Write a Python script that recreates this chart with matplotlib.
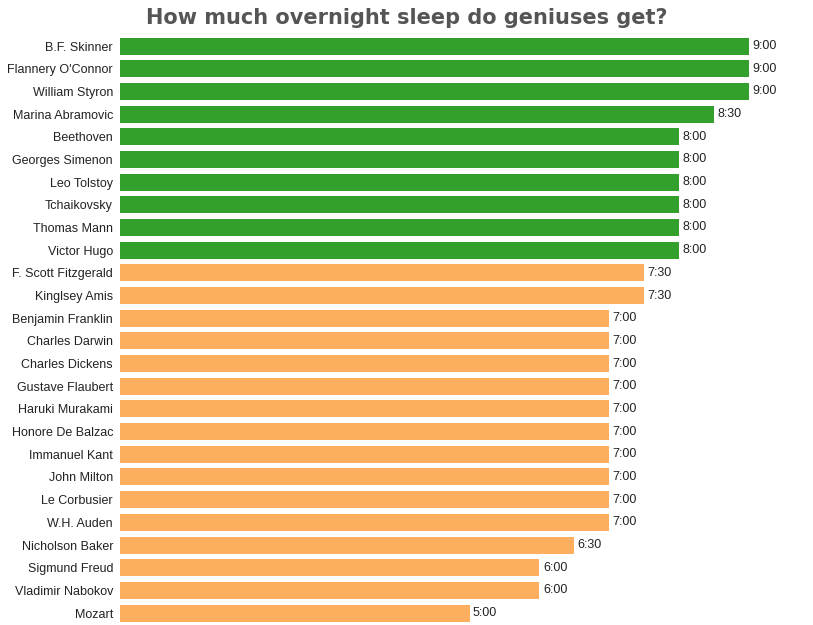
import matplotlib
matplotlib.use("Agg")
import matplotlib.pyplot as plt

matplotlib.rcParams["font.family"] = ["Liberation Sans", "DejaVu Sans"]

names = ["B.F. Skinner", "Flannery O'Connor", "William Styron", "Marina Abramovic",
         "Beethoven", "Georges Simenon", "Leo Tolstoy", "Tchaikovsky", "Thomas Mann",
         "Victor Hugo", "F. Scott Fitzgerald", "Kinglsey Amis", "Benjamin Franklin",
         "Charles Darwin", "Charles Dickens", "Gustave Flaubert", "Haruki Murakami",
         "Honore De Balzac", "Immanuel Kant", "John Milton", "Le Corbusier",
         "W.H. Auden", "Nicholson Baker", "Sigmund Freud", "Vladimir Nabokov", "Mozart"]
hours = [9, 9, 9, 8.5, 8, 8, 8, 8, 8, 8, 7.5, 7.5, 7, 7, 7, 7, 7, 7, 7, 7, 7, 7,
         6.5, 6, 6, 5]

fig = plt.figure(figsize=(8.13, 6.25), dpi=100)
ax = fig.add_axes([120 / 813, 1 - 624.4 / 625, 693 / 813, 589.7 / 625])

y = list(range(len(names)))
colors = ["#33a02c" if h >= 8 else "#fdae5e" for h in hours]
ax.barh(y, hours, height=0.75, color=colors)
for yi, h in zip(y, hours):
    label = "%d:%02d" % (int(h), round((h - int(h)) * 60))
    ax.text(h + 0.05, yi, label, va="center", ha="left", fontsize=9, color="#222222")

ax.set_yticks(y)
ax.set_yticklabels(names, fontsize=9, color="#222222")
ax.set_xticks([])
ax.set_xlim(0, 693 / 69.9)
ax.set_ylim(len(names) - 0.5, -0.5)
ax.tick_params(axis="y", length=0, pad=5)
for s in ax.spines.values():
    s.set_visible(False)

fig.text(0.5, 1 - 18 / 625, "How much overnight sleep do geniuses get?", ha="center",
         va="center", fontsize=15, fontweight="bold", color="#555555",
         family=["DejaVu Sans"])

fig.savefig("out.png", dpi=100)
